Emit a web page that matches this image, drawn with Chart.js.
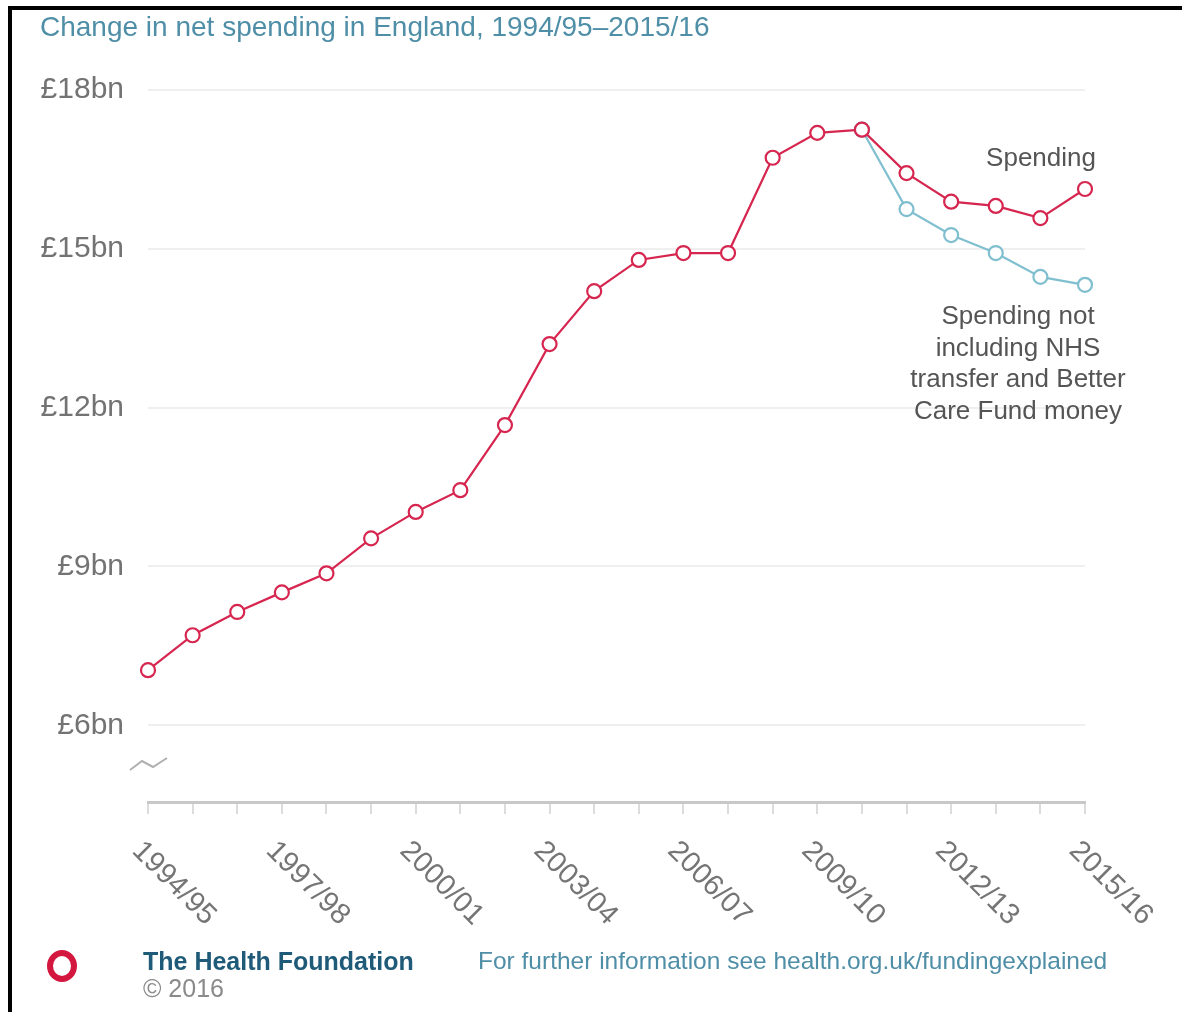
<!DOCTYPE html>
<html>
<head>
<meta charset="utf-8">
<script src="https://cdn.jsdelivr.net/npm/chart.js@4.4.0/dist/chart.umd.min.js"></script>
<style>
  body { margin: 0; background: #fff; }
  #wrap { position: relative; width: 1182px; height: 1012px; overflow: hidden; background: #fff; font-family: "Liberation Sans", Arial, sans-serif; }
  #chart { position: absolute; left: 0; top: 0; }
  .frame-top { position: absolute; left: 8px; top: 6px; width: 1174px; height: 4px; background: #000; }
  .frame-left { position: absolute; left: 8px; top: 6px; width: 4px; height: 1006px; background: #000; }
  .txt { position: absolute; white-space: nowrap; line-height: 1; }
  #title { left: 40px; top: 13px; font-size: 28px; color: #4f8ea7; }
  #lblSpend { right: 86px; top: 144px; font-size: 26px; color: #555; }
  #lblExcl { left: 888px; top: 300px; width: 260px; text-align: center; font-size: 26px; line-height: 31.5px; color: #555; white-space: normal; }
  #logo { position: absolute; left: 47px; top: 950px; width: 18px; height: 20px; border: 6px solid #d4173f; border-radius: 50%; }
  #org { left: 143px; top: 949px; font-size: 25px; font-weight: bold; color: #1f5a78; }
  #copy { left: 143px; top: 976px; font-size: 25px; color: #8a8a8a; }
  #more { left: 478px; top: 949px; font-size: 24.5px; color: #4f8ea7; }
</style>
</head>
<body>
<div id="wrap">
  <canvas id="chart" width="1182" height="1012"></canvas>
  <div class="frame-top"></div>
  <div class="frame-left"></div>
  <div class="txt" id="title">Change in net spending in England, 1994/95–2015/16</div>
  <div class="txt" id="lblSpend">Spending</div>
  <div class="txt" id="lblExcl">Spending not<br>including NHS<br>transfer and Better<br>Care Fund money</div>
  <div id="logo"></div>
  <div class="txt" id="org">The Health Foundation</div>
  <div class="txt" id="copy">© 2016</div>
  <div class="txt" id="more">For further information see health.org.uk/fundingexplained</div>
</div>
<script>
const years = ['1994/95', '1995/96', '1996/97', '1997/98', '1998/99', '1999/00', '2000/01', '2001/02',
    '2002/03', '2003/04', '2004/05', '2005/06', '2006/07', '2007/08', '2008/09', '2009/10',
    '2010/11', '2011/12', '2012/13', '2013/14', '2014/15', '2015/16'];

// £bn
const spending = [7.04, 7.70, 8.14, 8.51, 8.87, 9.53, 10.03, 10.44, 11.67, 13.20, 14.20,
    14.79, 14.92, 14.92, 16.72, 17.19, 17.25, 16.43, 15.89, 15.81, 15.58, 16.13];
const spendingExclNhs = [null, null, null, null, null, null, null, null, null, null, null,
    null, null, null, null, null, 17.25, 15.75, 15.26, 14.92, 14.47, 14.32];

const yTicks = [6, 9, 12, 15, 18];
const yMin = 4.55;
const yMax = 18;
const labelStep = 3;

const red = '#d6264f';
const blue = '#80bfcf';

// rotated year labels + the little axis break squiggle
const decorations = {
    id: 'decorations',
    afterDraw(chart) {
        const ctx = chart.ctx;
        const x = chart.scales.x;
        const area = chart.chartArea;

        ctx.save();
        ctx.font = '29px "Liberation Sans", Arial, sans-serif';
        ctx.fillStyle = '#757575';
        ctx.textAlign = 'left';
        ctx.textBaseline = 'top';
        years.forEach((label, i) => {
            if (i % labelStep !== 0) return;
            const px = x.getPixelForValue(i);
            ctx.save();
            ctx.translate(px - 1, area.bottom + 34);
            ctx.rotate(Math.PI / 4);
            ctx.fillText(label, 0, 0);
            ctx.restore();
        });

        ctx.strokeStyle = '#b0b0b0';
        ctx.lineWidth = 2;
        ctx.beginPath();
        ctx.moveTo(area.left - 18, area.bottom - 32);
        ctx.lineTo(area.left - 6, area.bottom - 41);
        ctx.lineTo(area.left + 5, area.bottom - 35);
        ctx.lineTo(area.left + 19, area.bottom - 44);
        ctx.stroke();
        ctx.restore();
    }
};

const ctx = document.getElementById('chart').getContext('2d');
new Chart(ctx, {
    type: 'line',
    data: {
        labels: years,
        datasets: [{
            label: 'Spending',
            data: spending,
            borderColor: red,
            borderWidth: 2.2,
            pointRadius: 7,
            pointBorderWidth: 2.2,
            pointBackgroundColor: '#fff',
            pointBorderColor: red,
            tension: 0,
            clip: false
        }, {
            label: 'Spending not including NHS transfer and Better Care Fund money',
            data: spendingExclNhs,
            borderColor: blue,
            borderWidth: 2.2,
            pointRadius: 7,
            pointBorderWidth: 2.2,
            pointBackgroundColor: '#fff',
            pointBorderColor: blue,
            tension: 0,
            clip: false
        }]
    },
    options: {
        responsive: false,
        animation: false,
        layout: {
            padding: { left: 0, top: 90, right: 97, bottom: 0 }
        },
        scales: {
            x: {
                type: 'category',
                offset: false,
                grid: {
                    drawOnChartArea: false,
                    drawTicks: true,
                    tickLength: 12,
                    color: '#dcdcdc',
                    lineWidth: 2
                },
                border: { display: true, color: '#c8c8c8', width: 3 },
                ticks: { display: false, autoSkip: false },
                afterFit(scale) { scale.height = 210; }
            },
            y: {
                min: yMin,
                max: yMax,
                grid: { color: '#efefef', lineWidth: 2, drawTicks: false },
                border: { display: false },
                ticks: {
                    padding: 24,
                    color: '#737373',
                    font: { family: '"Liberation Sans", Arial, sans-serif', size: 30 },
                    callback: v => '£' + v + 'bn'
                },
                afterBuildTicks(scale) { scale.ticks = yTicks.map(v => ({ value: v })); },
                afterFit(scale) { scale.width = 148; }
            }
        },
        plugins: {
            legend: { display: false },
            tooltip: { enabled: false }
        }
    },
    plugins: [decorations]
});
</script>
</body>
</html>
